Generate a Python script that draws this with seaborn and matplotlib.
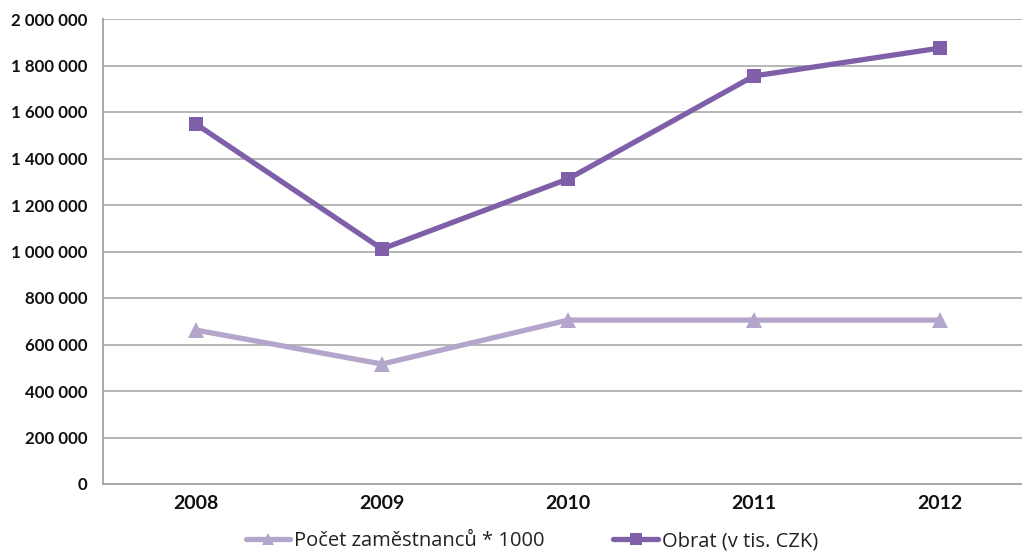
import copy
import matplotlib
matplotlib.use("Agg")
import matplotlib.pyplot as plt
from matplotlib.ticker import FuncFormatter, MultipleLocator
import seaborn as sns
import pandas as pd

years = ["2008", "2009", "2010", "2011", "2012"]
employees_x1000 = [662000, 516000, 705000, 705000, 705000]
turnover = [1548000, 1011000, 1312000, 1755000, 1875000]

label_employees = "Počet zaměstnanců * 1000"
label_turnover = "Obrat (v tis. CZK)"

sns.set_theme(style="white")
plt.rcParams["font.family"] = ["Lato", "DejaVu Sans"]

df = pd.DataFrame({"rok": years, "zam": employees_x1000, "obrat": turnover})

W, H = 1022, 552
fig = plt.figure(figsize=(W / 100, H / 100), dpi=100)
left, right, top, bottom = 103, 1033, 19, 484
ax = fig.add_axes([left / W, (H - bottom) / H, (right - left) / W, (bottom - top) / H])

c_emp = "#b3a6ca"
c_turn = "#7f5fa8"

sns.lineplot(data=df, x="rok", y="zam", ax=ax, color=c_emp, linewidth=3.8,
             marker="^", markersize=12, markeredgewidth=0, label=label_employees, sort=False)
sns.lineplot(data=df, x="rok", y="obrat", ax=ax, color=c_turn, linewidth=3.8,
             marker="s", markersize=10.5, markeredgewidth=0, label=label_turnover, sort=False)

ax.set_xlim(-0.5, 4.5)
ax.set_ylim(0, 2000000)
ax.yaxis.set_major_locator(MultipleLocator(200000))
ax.yaxis.set_major_formatter(FuncFormatter(lambda v, p: f"{int(v):,}".replace(",", " ")))
ax.grid(axis="y", color="#b5b5b5", linewidth=1.4)
ax.set_axisbelow(True)
for s in ["top", "right"]:
    ax.spines[s].set_visible(False)
for s in ["left", "bottom"]:
    ax.spines[s].set_color("#a8a8a8")
    ax.spines[s].set_linewidth(1.4)
ax.set_xlabel("")
ax.set_ylabel("")
ax.tick_params(axis="both", length=0, colors="#111111")
ax.tick_params(axis="y", pad=11, labelsize=12.2)
ax.tick_params(axis="x", pad=8, labelsize=14)
for t in ax.get_xticklabels() + ax.get_yticklabels():
    t.set_fontweight("bold")

ax.get_legend().remove()
handles, labels = ax.get_legend_handles_labels()
legend_handles = []
for h in handles:
    hc = copy.copy(h)
    hc.set_markersize(8)
    legend_handles.append(hc)
fig.legend(legend_handles, labels, loc="center", bbox_to_anchor=(532 / W, 1 - 541 / H), ncol=2,
           frameon=False, prop={"family": ["Open Sans", "DejaVu Sans"], "size": 14.5},
           handlelength=2.2, handletextpad=0.2, columnspacing=3.4, labelcolor="#222222")

fig.savefig("out.png", dpi=100)
